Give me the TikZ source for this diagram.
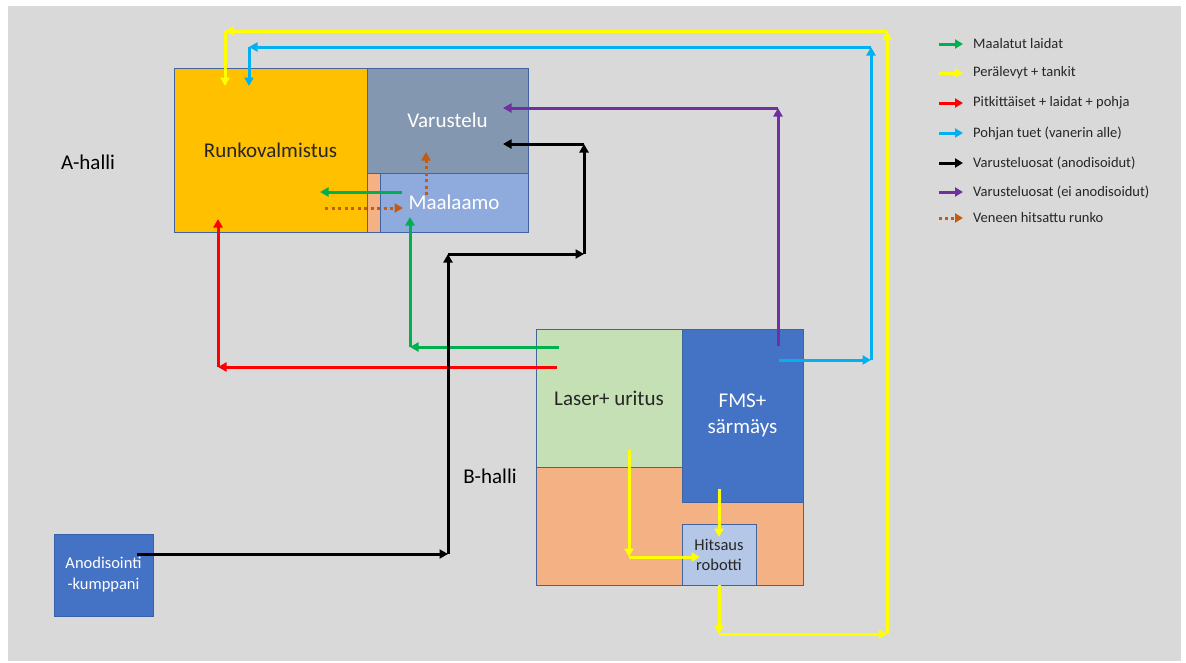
\documentclass[tikz,border=0pt]{standalone}
\usepackage{fontspec}
\setmainfont{Carlito}
\usetikzlibrary{arrows.meta,positioning}
\definecolor{bgray}{RGB}{217,217,217}
\definecolor{runkoyellow}{RGB}{255,192,0}
\definecolor{varugray}{RGB}{132,151,176}
\definecolor{maalablue}{RGB}{143,170,220}
\definecolor{peach}{RGB}{244,177,131}
\definecolor{lasergreen}{RGB}{197,224,180}
\definecolor{fmsblue}{RGB}{68,114,196}
\definecolor{hitsblue}{RGB}{180,199,231}
\definecolor{edgeblue}{RGB}{65,100,160}
\definecolor{darktext}{RGB}{38,38,38}
\definecolor{arrgreen}{RGB}{0,176,80}
\definecolor{arryellow}{RGB}{255,255,0}
\definecolor{arrred}{RGB}{255,0,0}
\definecolor{arrcyan}{RGB}{0,176,240}
\definecolor{arrpurple}{RGB}{112,48,160}
\definecolor{arrorange}{RGB}{197,90,17}
\newcommand\roomfont{\fontsize{21}{26}\selectfont}
\newcommand\subfont{\fontsize{16.5}{20}\selectfont}
\newcommand\anodifont{\fontsize{16.5}{21}\selectfont}
\newcommand\legfont{\fontsize{14.5}{17}\selectfont}
\tikzset{
  room/.style={draw=edgeblue,line width=0.8pt,inner sep=0pt,outer sep=0pt,anchor=north west},
  hall/.style={font=\roomfont,text=black},
  flow/.style={line width=3pt,-{Triangle[length=8.5pt,width=9pt]}},
  dotflow/.style={flow,arrorange,dash pattern=on 3pt off 3.5pt},
  legtext/.style={font=\legfont,text=darktext,anchor=west,inner sep=0pt},
  legarrow/.style={line width=3pt,-{Triangle[length=8pt,width=9pt]}}
}
\begin{document}
\begin{tikzpicture}[x=1pt,y=-1pt]
\useasboundingbox (0,0) rectangle (1186,662);
\fill[bgray] (8,6) rectangle (1181,661);
% A-halli
\node[room,fill=runkoyellow,minimum width=193pt,minimum height=164pt,text=darktext,font=\roomfont] (runko) at (174,68) {Runkovalmistus};
\node[room,fill=varugray,minimum width=161pt,minimum height=105pt,text=white,font=\roomfont] (varustelu) at (367,68) {Varustelu};
\node[room,fill=peach,minimum width=13pt,minimum height=59pt] (kaista) at (367,173) {};
\node[room,fill=maalablue,minimum width=148pt,minimum height=59pt,text=white,font=\roomfont] (maalaamo) at (380,173) {Maalaamo};
\node[hall] (ahalli) at (88,162) {A-halli};
% B-halli
\node[room,fill=peach,minimum width=267pt,minimum height=256pt] (bhalli) at (536,329) {};
\node[room,fill=lasergreen,minimum width=146pt,minimum height=138pt,text=darktext,font=\roomfont] (laser) at (536,329) {Laser+ uritus};
\node[room,fill=fmsblue,minimum width=121pt,minimum height=173pt,text=white,font=\roomfont,align=center] (fms) at (682,329) {FMS+\\särmäys};
\node[room,fill=hitsblue,minimum width=74pt,minimum height=61pt,text=darktext,font=\subfont,align=center] (hitsaus) at (682,524) {Hitsaus\\robotti};
\node[hall] (bhallitxt) at (490,476) {B-halli};
\node[room,fill=fmsblue,draw=fmsblue!85!black,minimum width=99pt,minimum height=82pt,text=white,font=\anodifont,align=center] (anodi) at (54,534) {Anodisointi\\-kumppani};
% corner points
\coordinate (y1) at (719,634);
\coordinate (y2) at (887,634);
\coordinate (y3) at (887,31);
\coordinate (y4) at (225,31);
\coordinate (y5) at (225,86);
\coordinate (yl0) at (629,450);
\coordinate (yl1) at (629,557);
\coordinate (yl2) at (700,557);
\coordinate (yf0) at (719,489);
\coordinate (yf1) at (719,537);
\coordinate (c0) at (779,360);
\coordinate (c1) at (871,360);
\coordinate (c2) at (871,47);
\coordinate (c3) at (249,47);
\coordinate (c4) at (249,86);
\coordinate (p0) at (778,346);
\coordinate (p1) at (778,108);
\coordinate (p2) at (503,108);
\coordinate (k0) at (137,554);
\coordinate (k1) at (448,554);
\coordinate (k2) at (448,254);
\coordinate (k3) at (584,254);
\coordinate (k4) at (584,144);
\coordinate (k5) at (503,144);
\coordinate (g0) at (559,347);
\coordinate (g1) at (410,347);
\coordinate (g2) at (410,217);
\coordinate (gm0) at (402,192);
\coordinate (gm1) at (320,192);
\coordinate (r0) at (557,367);
\coordinate (r1) at (218,367);
\coordinate (r2) at (218,219);
\coordinate (o0) at (325,208);
\coordinate (o1) at (403,208);
\coordinate (o2) at (426,195);
\coordinate (o3) at (426,152);
% flows
\foreach \a/\b in {hitsaus.south/y1,y1/y2,y2/y3,y3/y4,y4/y5,yl0/yl1,yl1/yl2,yf0/yf1}
  \draw[flow,arryellow] (\a) -- (\b);
\foreach \a/\b in {c0/c1,c1/c2,c2/c3,c3/c4}
  \draw[flow,arrcyan] (\a) -- (\b);
\foreach \a/\b in {p0/p1,p1/p2}
  \draw[flow,arrpurple] (\a) -- (\b);
\foreach \a/\b in {g0/g1,g1/g2,gm0/gm1}
  \draw[flow,arrgreen] (\a) -- (\b);
\foreach \a/\b in {r0/r1,r1/r2}
  \draw[flow,arrred] (\a) -- (\b);
\foreach \a/\b in {k0/k1,k1/k2,k2/k3,k3/k4,k4/k5}
  \draw[flow,black] (\a) -- (\b);
\draw[dotflow] (o0) -- (o1);
\draw[dotflow] (o2) -- (o3);
% legend
\foreach \yy/\col/\txt [count=\i] in {44/arrgreen/{Maalatut laidat},73/arryellow/{Perälevyt + tankit},103/arrred/{Pitkittäiset + laidat + pohja},133/arrcyan/{Pohjan tuet (vanerin alle)},163/black/{Varusteluosat (anodisoidut)},192/arrpurple/{Varusteluosat (ei anodisoidut)}}{
  \node[legtext] (leg\i) at (973,\yy) {\txt};
  \coordinate (legs\i) at (939,\yy);
  \draw[legarrow,\col] (legs\i) -- ([xshift=-10pt]leg\i.west);
}
\node[legtext] (leg7) at (973,218) {Veneen hitsattu runko};
\coordinate (legs7) at (939,218);
\draw[legarrow,arrorange,dash pattern=on 3pt off 3pt] (legs7) -- ([xshift=-10pt]leg7.west);
\end{tikzpicture}
\end{document}
